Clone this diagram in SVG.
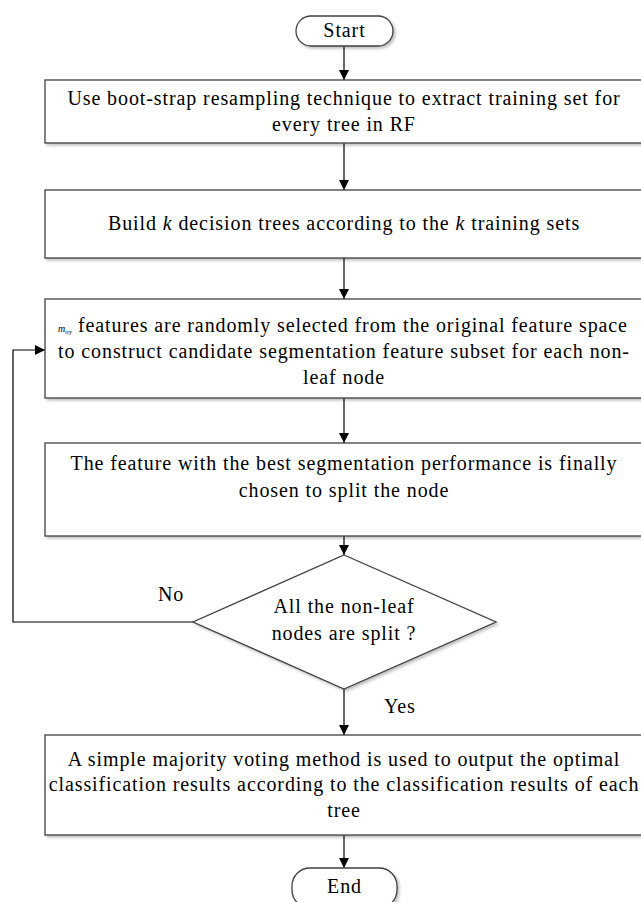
<svg xmlns="http://www.w3.org/2000/svg" width="641" height="902" viewBox="0 0 641 902">
<style>
.box{fill:#fff;stroke:#404040;stroke-width:1.3;filter:url(#sh)}
.t{font-family:"Liberation Serif","DejaVu Serif",serif;font-size:20px;letter-spacing:0.9px;fill:#000;text-anchor:middle}
.lbl{font-family:"Liberation Serif","DejaVu Serif",serif;font-size:20px;letter-spacing:0.9px;fill:#000}
.c{fill:none;stroke:#000;stroke-width:1.2}
</style>
<defs>
<marker id="ah" viewBox="0 0 10 10" refX="10" refY="5" markerWidth="10" markerHeight="10" markerUnits="userSpaceOnUse" orient="auto">
<path d="M0,0 L10,5 L0,10 Z" fill="#000"/>
</marker>
<filter id="sh" x="-5%" y="-10%" width="115%" height="130%">
<feGaussianBlur in="SourceAlpha" stdDeviation="1.5"/>
<feOffset dx="1.5" dy="2" result="b"/>
<feComponentTransfer><feFuncA type="linear" slope="0.25"/></feComponentTransfer>
<feMerge><feMergeNode/><feMergeNode in="SourceGraphic"/></feMerge>
</filter>
</defs>
<g id="connectors">
<line class="c" x1="344" y1="46" x2="344" y2="80" marker-end="url(#ah)"/>
<line class="c" x1="344" y1="143" x2="344" y2="190" marker-end="url(#ah)"/>
<line class="c" x1="344" y1="258" x2="344" y2="299" marker-end="url(#ah)"/>
<line class="c" x1="344" y1="398" x2="344" y2="443" marker-end="url(#ah)"/>
<line class="c" x1="344" y1="536" x2="344" y2="555" marker-end="url(#ah)"/>
<line class="c" x1="344" y1="689" x2="344" y2="735" marker-end="url(#ah)"/>
<line class="c" x1="344" y1="835" x2="344" y2="868" marker-end="url(#ah)"/>
<polyline class="c" points="193,622 13,622 13,350 45,350" marker-end="url(#ah)"/>
<text class="lbl" x="158" y="601">No</text>
<text class="lbl" x="384" y="713">Yes</text>
</g>
<g id="start">
<rect class="box" x="296" y="16" width="97" height="30" rx="15"/>
<text class="t" x="344.5" y="37">Start</text>
</g>
<g id="box1">
<rect class="box" x="45" y="80" width="605" height="63"/>
<text class="t" x="344" y="105">Use boot-strap resampling technique to extract training set for</text>
<text class="t" x="344" y="131">every tree in RF</text>
</g>
<g id="box2">
<rect class="box" x="45" y="190" width="605" height="68"/>
<text class="t" x="344" y="230">Build <tspan font-style="italic">k</tspan> decision trees according to the <tspan font-style="italic">k</tspan> training sets</text>
</g>
<g id="box3">
<rect class="box" x="45" y="299" width="605" height="99"/>
<text class="t" x="343" y="332"><tspan font-style="italic" font-size="10px" letter-spacing="0">m</tspan><tspan font-size="6px" dy="2" letter-spacing="0">try</tspan><tspan dy="-2"> features are randomly selected from the original feature space</tspan></text>
<text class="t" x="344" y="358">to construct candidate segmentation feature subset for each non-</text>
<text class="t" x="344" y="384">leaf node</text>
</g>
<g id="box4">
<rect class="box" x="45" y="443" width="605" height="93"/>
<text class="t" x="344" y="470">The feature with the best segmentation performance is finally</text>
<text class="t" x="344" y="497">chosen to split the node</text>
</g>
<g id="decision">
<polygon class="box" points="344,555 496,622 344,689 193,622"/>
<text class="t" x="344" y="613">All the non-leaf</text>
<text class="t" x="344" y="640">nodes are split ?</text>
</g>
<g id="box5">
<rect class="box" x="45" y="735" width="605" height="100"/>
<text class="t" x="344" y="766">A simple majority voting method is used to output the optimal</text>
<text class="t" x="344" y="791">classification results according to the classification results of each</text>
<text class="t" x="344" y="817">tree</text>
</g>
<g id="end">
<rect class="box" x="292" y="868" width="105" height="40" rx="18"/>
<text class="t" x="344.5" y="893">End</text>
</g>
</svg>
